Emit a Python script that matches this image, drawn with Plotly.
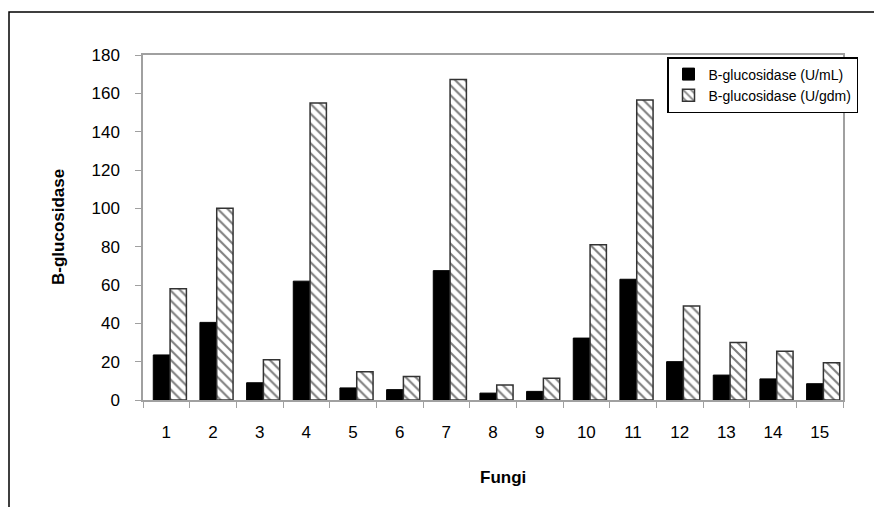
import plotly.graph_objects as go

fungi = [str(i) for i in range(1, 16)]
u_ml = [23.5, 40.5, 9, 62, 6.3, 5.4, 67.5, 3.6, 4.5, 32.3, 63, 20, 13, 11, 8.5]
u_gdm = [58, 100, 21, 155, 14.8, 12.3, 167.2, 7.8, 11.4, 81, 156.5, 49, 30, 25.5, 19.5]
y_ticks = [0, 20, 40, 60, 80, 100, 120, 140, 160, 180]

FONT = "Arial, Liberation Sans, sans-serif"

fig = go.Figure()
fig.add_trace(go.Bar(
    x=fungi, y=u_ml, name="B-glucosidase (U/mL)",
    width=0.36, offset=-0.28,
    marker=dict(color="black", line=dict(color="black", width=1)),
))
fig.add_trace(go.Bar(
    x=fungi, y=u_gdm, name="B-glucosidase (U/gdm)",
    width=0.35, offset=0.08,
    marker=dict(color="white", line=dict(color="#333333", width=1.5),
                pattern=dict(shape="\\", fgcolor="black", bgcolor="white",
                             size=7, solidity=0.3)),
))

# browser body margin offset
OFF = 8
W, H = 882 - OFF, 507 - OFF
L, R, T, B = 143 - OFF, 843 - OFF, 55 - OFF, 400 - OFF
pw, ph = R - L, B - T

def px(x):
    return (x - OFF - L) / pw

def py(y):
    return (B - (y - OFF)) / ph

fig.update_layout(
    width=W, height=H,
    margin=dict(l=L, r=W - R, t=T, b=H - B),
    paper_bgcolor="white", plot_bgcolor="white",
    barmode="overlay",
    font=dict(family=FONT, size=17, color="black"),
    showlegend=True,
    legend=dict(x=px(667), y=py(57), xanchor="left", yanchor="top",
                bgcolor="white", bordercolor="black", borderwidth=1.5,
                font=dict(size=14, family=FONT), itemwidth=30,
                tracegroupgap=2),
    xaxis=dict(showline=True, linecolor="#a0a0a0", linewidth=1.5, mirror=True,
               ticks="outside", tickson="boundaries", ticklen=6, tickcolor="#a0a0a0",
               showgrid=False, tickfont=dict(size=17), ticklabelstandoff=16,
               fixedrange=True),
    yaxis=dict(range=[0, 180], tickvals=y_ticks, showline=True, linecolor="#a0a0a0",
               linewidth=1.5, mirror=True, ticks="outside", ticklen=6, tickcolor="#a0a0a0",
               showgrid=False, zeroline=False, tickfont=dict(size=17),
               ticklabelstandoff=12, fixedrange=True),
    annotations=[
        dict(text="<b>Fungi</b>", xref="paper", yref="paper",
             x=px(503), y=py(477), showarrow=False,
             font=dict(size=17, family=FONT), xanchor="center", yanchor="middle"),
        dict(text="<b>B-glucosidase</b>", xref="paper", yref="paper",
             x=px(58), y=py(227), showarrow=False, textangle=-90,
             font=dict(size=17, family=FONT), xanchor="center", yanchor="middle"),
    ],
    shapes=[
        dict(type="rect", xref="paper", yref="paper",
             x0=px(9), x1=px(900),
             y0=py(530), y1=py(12),
             line=dict(color="black", width=1.5), fillcolor="rgba(0,0,0,0)", layer="below"),
    ],
)

fig.write_html("out.html")
